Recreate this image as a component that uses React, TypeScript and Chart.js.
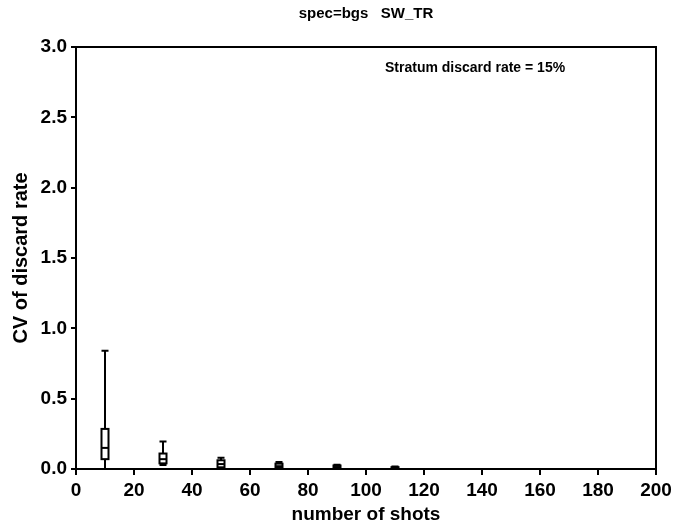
import React, { useEffect, useRef } from "react";
import { Chart, registerables } from "chart.js";

Chart.register(...registerables);

const chartTitle = "spec=bgs   SW_TR";
const annotation = "Stratum discard rate = 15%";
const xAxisTitle = "number of shots";
const yAxisTitle = "CV of discard rate";

const shots = [10, 30, 50, 70, 90, 110];
const whiskerHigh = [0.84, 0.195, 0.08, 0.05, 0.03, 0.018];
const q3 = [0.285, 0.11, 0.062, 0.038, 0.025, 0.013];
const median = [0.15, 0.07, 0.035, 0.02, 0.014, 0.008];
const q1 = [0.07, 0.04, 0.012, 0.008, 0.005, 0.003];
const whiskerLow = [0.0, 0.028, 0.005, 0.002, 0.001, 0.001];

const FONT = "'Liberation Sans', Arial, sans-serif";

const boxPlugin = {
  id: "boxes",
  afterDatasetsDraw(chart: any) {
    const { ctx, scales } = chart;
    const xs = scales.x;
    const ys = scales.y;
    ctx.save();
    ctx.strokeStyle = "#000";
    ctx.lineWidth = 2;
    const half = 3.5;
    shots.forEach((s, i) => {
      const x = xs.getPixelForValue(s);
      const yHi = ys.getPixelForValue(whiskerHigh[i]);
      const yLo = ys.getPixelForValue(whiskerLow[i]);
      const yQ3 = ys.getPixelForValue(q3[i]);
      const yQ1 = ys.getPixelForValue(q1[i]);
      const yMed = ys.getPixelForValue(median[i]);
      ctx.beginPath();
      ctx.moveTo(x, yHi);
      ctx.lineTo(x, yQ3);
      ctx.moveTo(x, yQ1);
      ctx.lineTo(x, yLo);
      ctx.moveTo(x - half, yHi);
      ctx.lineTo(x + half, yHi);
      ctx.moveTo(x - half, yLo);
      ctx.lineTo(x + half, yLo);
      ctx.stroke();
      ctx.fillStyle = "#fff";
      ctx.fillRect(x - half, yQ3, half * 2, yQ1 - yQ3);
      ctx.strokeRect(x - half, yQ3, half * 2, yQ1 - yQ3);
      ctx.beginPath();
      ctx.moveTo(x - half, yMed);
      ctx.lineTo(x + half, yMed);
      ctx.stroke();
    });
    ctx.restore();
  },
  afterDraw(chart: any) {
    const { ctx, chartArea } = chart;
    ctx.save();
    ctx.strokeStyle = "#000";
    ctx.lineWidth = 2;
    ctx.strokeRect(chartArea.left, chartArea.top, chartArea.right - chartArea.left, chartArea.bottom - chartArea.top);
    ctx.fillStyle = "#000";
    ctx.textAlign = "center";
    ctx.textBaseline = "middle";
    ctx.font = `bold 15px ${FONT}`;
    ctx.fillText(chartTitle, (chartArea.left + chartArea.right) / 2, 14);
    ctx.font = `bold 19px ${FONT}`;
    ctx.fillText(xAxisTitle, (chartArea.left + chartArea.right) / 2, 515);
    ctx.save();
    ctx.translate(21, (chartArea.top + chartArea.bottom) / 2);
    ctx.rotate(-Math.PI / 2);
    ctx.font = `bold 20px ${FONT}`;
    ctx.fillText(yAxisTitle, 0, 0);
    ctx.restore();
    ctx.textAlign = "left";
    ctx.font = `bold 14px ${FONT}`;
    ctx.fillText(annotation, 385, 68);
    ctx.restore();
  },
};

export default function App() {
  const ref = useRef<HTMLCanvasElement | null>(null);
  useEffect(() => {
    document.body.style.margin = "0";
    const canvas = ref.current!;
    const chart = new Chart(canvas, {
      type: "scatter",
      data: {
        datasets: [
          {
            data: shots.map((s, i) => ({ x: s, y: median[i] })),
            pointRadius: 0,
            showLine: false,
          },
        ],
      },
      options: {
        responsive: false,
        animation: false,
        layout: { padding: { top: 47, right: 21, left: 0, bottom: 0 } },
        plugins: { legend: { display: false }, title: { display: false }, tooltip: { enabled: false } },
        scales: {
          x: {
            type: "linear",
            min: 0,
            max: 200,
            ticks: {
              stepSize: 20,
              color: "#000",
              padding: 4,
              maxRotation: 0,
              font: { family: FONT, size: 19, weight: "bold" },
            },
            grid: { drawOnChartArea: false, drawTicks: true, tickLength: 6, color: "#000", lineWidth: 2 },
            border: { display: true, color: "#000", width: 2 },
            afterFit: (s: any) => {
              s.height = 60;
            },
          },
          y: {
            type: "linear",
            min: 0,
            max: 3,
            ticks: {
              stepSize: 0.5,
              color: "#000",
              padding: 4,
              font: { family: FONT, size: 19, weight: "bold" },
              callback: (v: any) => Number(v).toFixed(1),
            },
            grid: { drawOnChartArea: false, drawTicks: true, tickLength: 5, color: "#000", lineWidth: 2 },
            border: { display: true, color: "#000", width: 2 },
            afterFit: (s: any) => {
              s.width = 76;
            },
          },
        },
      },
      plugins: [boxPlugin],
    } as any);
    return () => chart.destroy();
  }, []);
  return <canvas ref={ref} width={677} height={529} style={{ display: "block" }} />;
}
